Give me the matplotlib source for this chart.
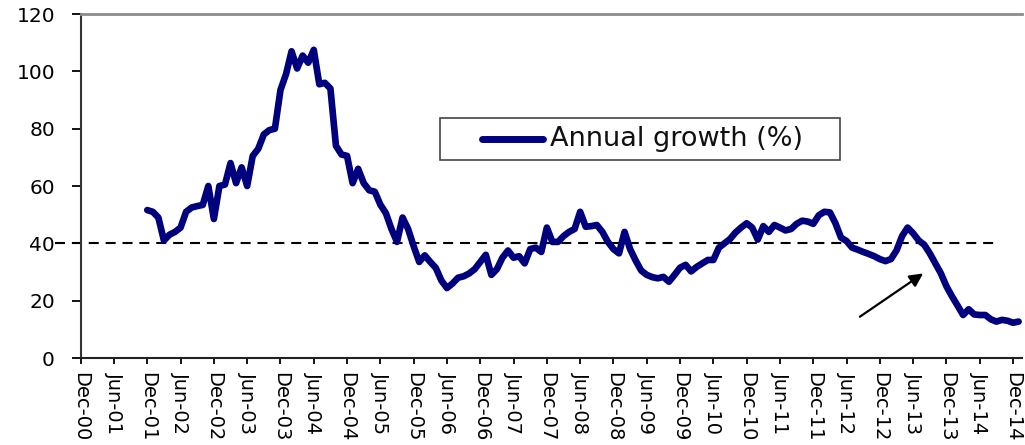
import matplotlib
matplotlib.use("Agg")
from matplotlib import pyplot as plt
from matplotlib.patches import Rectangle
from matplotlib.lines import Line2D
import numpy as np

# annual growth (%), monthly from Dec-01
growth = [51.6, 51, 49, 41, 43, 44, 45.5, 51, 52.5, 53, 53.4, 60,
          48.5, 60, 60.5, 68, 61, 66.5, 60, 70.5, 73, 78, 79.5, 80,
          93.5, 99, 107, 101, 105.5, 103, 107.5, 95.5, 96, 94, 74, 71,
          70.5, 61, 66, 61, 58.5, 58, 53.5, 50.5, 45, 40.5, 49, 45,
          39, 33.5, 35.8, 33.5, 31.4, 27, 24.4, 26, 28, 28.5, 29.5, 31,
          33.5, 36, 29, 31, 35, 37.5, 35, 35.5, 33, 38, 38.5, 37,
          45.5, 40.5, 40.5, 42.5, 44, 45, 51, 45.8, 46, 46.4, 44, 40.5,
          38, 36.5, 44, 38, 34, 30.5, 29, 28.2, 27.8, 28.3, 26.6, 29,
          31.5, 32.5, 30.2, 31.8, 33, 34.2, 34.2, 38.5, 40, 41.5, 43.8, 45.5,
          47, 45.5, 41.3, 46, 44, 46.4, 45.5, 44.5, 45, 46.8, 47.9, 47.6,
          46.8, 49.8, 51, 50.8, 47, 42, 40.8, 38.5, 37.8, 37, 36.3, 35.5,
          34.5, 33.8, 34.5, 37.5, 42.5, 45.5, 43.5, 41, 39.5, 36.5, 33, 29.5,
          25, 21.5, 18.3, 15, 17, 15.2, 15, 15, 13.5, 12.7, 13.3, 13,
          12.3, 12.7]
first_month = 12   # months after Dec-00
threshold = 40

tick_labels = ["Dec-00", "Jun-01", "Dec-01", "Jun-02", "Dec-02", "Jun-03",
               "Dec-03", "Jun-04", "Dec-04", "Jun-05", "Dec-05", "Jun-06",
               "Dec-06", "Jun-07", "Dec-07", "Jun-08", "Dec-08", "Jun-09",
               "Dec-09", "Jun-10", "Dec-10", "Jun-11", "Dec-11", "Jun-12",
               "Dec-12", "Jun-13", "Dec-13", "Jun-14", "Dec-14"]

months = np.arange(first_month, first_month + len(growth))
navy = "#00007f"

plt.rcParams["font.family"] = ["DejaVu Sans"]
fig = plt.figure(figsize=(10.25, 4.45), dpi=100)
ax = fig.add_axes([0.0787, 0.1955, 0.9183, 0.773])

# threshold line runs a little past the y axis
ax.plot([-4.6, 164.7], [threshold, threshold], color="black", lw=1.5,
        dashes=(4.8, 3.3), clip_on=False, zorder=2)
ax.plot(months, growth, color=navy, lw=4.8, solid_joinstyle="round",
        solid_capstyle="round", zorder=3)

ax.annotate("", xy=(151.8, 29.5), xytext=(140.4, 14.4),
            arrowprops=dict(arrowstyle="-|>", color="black", lw=1.6,
                            mutation_scale=20, shrinkA=0, shrinkB=0))

ax.set_xlim(0, 169.6)
ax.set_ylim(0, 120)
ax.set_yticks(range(0, 121, 20))
ax.set_xticks(range(0, 169, 6))
ax.set_xticklabels(tick_labels, rotation=270, va="top", ha="center")
ax.tick_params(axis="y", labelsize=14.5, length=6.5, width=1.3, pad=12)
ax.tick_params(axis="x", labelsize=14, length=4.5, width=1.3, pad=5.5)

ax.spines["right"].set_visible(False)
ax.spines["top"].set_color("#8c8c8c")
ax.spines["top"].set_linewidth(2)
ax.spines["left"].set_color("#333333")
ax.spines["left"].set_linewidth(1.5)
ax.spines["bottom"].set_color("#222222")
ax.spines["bottom"].set_linewidth(1.5)

# legend box
ax.add_patch(Rectangle((0.3816, 0.576), 0.425, 0.122, transform=ax.transAxes,
                       facecolor="white", edgecolor="#444444", lw=1.2, zorder=4))
ax.add_line(Line2D([0.4264, 0.4912], [0.636, 0.636], transform=ax.transAxes,
                   color=navy, lw=5, solid_capstyle="round", zorder=5))
ax.text(0.4985, 0.636, "Annual growth (%)", transform=ax.transAxes,
        fontsize=19.5, va="center", ha="left", color="#111111", zorder=5)

fig.savefig("out.png", dpi=100)
